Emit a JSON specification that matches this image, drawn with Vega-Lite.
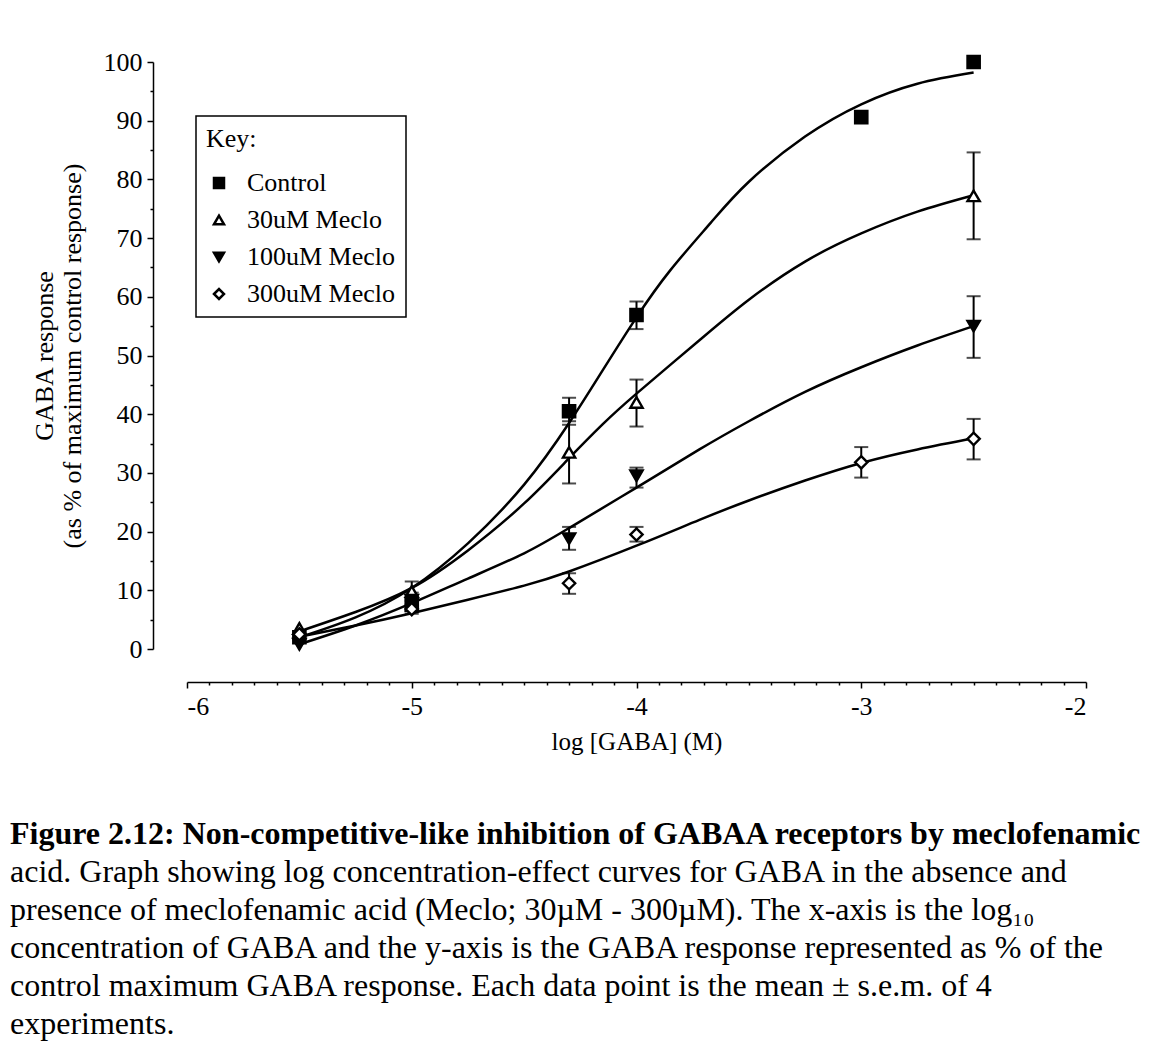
{
  "$schema": "https://vega.github.io/schema/vega-lite/v6.json",
  "width": 899,
  "height": 587,
  "autosize": {"type": "none"},
  "padding": {"left": 187, "top": 62, "right": 69, "bottom": 412},
  "background": "white",
  "config": {
    "view": {"stroke": null},
    "font": "Liberation Serif",
    "axis": {
      "grid": false,
      "domainColor": "black",
      "tickColor": "black",
      "labelColor": "black",
      "titleColor": "black",
      "domainWidth": 1.5,
      "tickWidth": 1.5,
      "labelFont": "Liberation Serif",
      "titleFont": "Liberation Serif",
      "labelFontSize": 26,
      "titleFontWeight": "normal"
    },
    "legend": {
      "strokeColor": "black",
      "strokeWidth": 1.5,
      "fillColor": "white",
      "padding": 10,
      "titleFont": "Liberation Serif",
      "titleFontSize": 26,
      "titleFontWeight": "normal",
      "titleColor": "black",
      "titlePadding": 18,
      "labelFont": "Liberation Serif",
      "labelFontSize": 26,
      "labelColor": "black",
      "labelOffset": 15,
      "rowPadding": 11,
      "symbolSize": 100,
      "symbolStrokeWidth": 2.5
    }
  },
  "title": {
    "text": "Figure 2.12: Non-competitive-like inhibition of GABAA receptors by meclofenamic",
    "subtitle": [
      "acid. Graph showing log concentration-effect curves for GABA in the absence and",
      "presence of meclofenamic acid (Meclo; 30µM - 300µM). The x-axis is the log₁₀",
      "concentration of GABA and the y-axis is the GABA response represented as % of  the",
      "control maximum GABA response. Each data point is the mean ± s.e.m. of 4",
      "experiments."
    ],
    "orient": "bottom",
    "anchor": "start",
    "frame": "group",
    "dx": -177,
    "offset": 65,
    "font": "Liberation Serif",
    "fontSize": 32,
    "fontWeight": "bold",
    "color": "black",
    "lineHeight": 38,
    "subtitleFont": "Liberation Serif",
    "subtitleFontSize": 32,
    "subtitleColor": "black",
    "subtitleLineHeight": 38,
    "subtitlePadding": 6
  },
  "datasets": {
    "curves": [
      {"series": "Control", "x": -5.5, "y": 2.0},
      {"series": "Control", "x": -5.25, "y": 5.4},
      {"series": "Control", "x": -5.0, "y": 10.4},
      {"series": "Control", "x": -4.75, "y": 18.0},
      {"series": "Control", "x": -4.5, "y": 28.0},
      {"series": "Control", "x": -4.3, "y": 38.5},
      {"series": "Control", "x": -4.15, "y": 47.5},
      {"series": "Control", "x": -4.0, "y": 56.5},
      {"series": "Control", "x": -3.85, "y": 64.5},
      {"series": "Control", "x": -3.67, "y": 72.6},
      {"series": "Control", "x": -3.5, "y": 79.6},
      {"series": "Control", "x": -3.25, "y": 87.3},
      {"series": "Control", "x": -3.0, "y": 92.8},
      {"series": "Control", "x": -2.75, "y": 96.3},
      {"series": "Control", "x": -2.5, "y": 98.2},
      {"series": "30uM Meclo", "x": -5.5, "y": 3.0},
      {"series": "30uM Meclo", "x": -5.25, "y": 6.3},
      {"series": "30uM Meclo", "x": -5.0, "y": 10.4},
      {"series": "30uM Meclo", "x": -4.75, "y": 16.8},
      {"series": "30uM Meclo", "x": -4.5, "y": 24.8},
      {"series": "30uM Meclo", "x": -4.3, "y": 32.5},
      {"series": "30uM Meclo", "x": -4.15, "y": 38.3},
      {"series": "30uM Meclo", "x": -4.0, "y": 43.5},
      {"series": "30uM Meclo", "x": -3.72, "y": 52.6},
      {"series": "30uM Meclo", "x": -3.5, "y": 59.5},
      {"series": "30uM Meclo", "x": -3.25, "y": 66.0},
      {"series": "30uM Meclo", "x": -3.0, "y": 70.8},
      {"series": "30uM Meclo", "x": -2.75, "y": 74.5},
      {"series": "30uM Meclo", "x": -2.5, "y": 77.3},
      {"series": "100uM Meclo", "x": -5.5, "y": 0.8},
      {"series": "100uM Meclo", "x": -5.25, "y": 4.0},
      {"series": "100uM Meclo", "x": -5.0, "y": 7.8},
      {"series": "100uM Meclo", "x": -4.75, "y": 12.0},
      {"series": "100uM Meclo", "x": -4.5, "y": 16.3},
      {"series": "100uM Meclo", "x": -4.3, "y": 20.6},
      {"series": "100uM Meclo", "x": -4.0, "y": 27.5},
      {"series": "100uM Meclo", "x": -3.72, "y": 34.0},
      {"series": "100uM Meclo", "x": -3.5, "y": 38.8},
      {"series": "100uM Meclo", "x": -3.25, "y": 43.8},
      {"series": "100uM Meclo", "x": -3.0, "y": 48.0},
      {"series": "100uM Meclo", "x": -2.75, "y": 51.7},
      {"series": "100uM Meclo", "x": -2.5, "y": 55.0},
      {"series": "300uM Meclo", "x": -5.5, "y": 2.1},
      {"series": "300uM Meclo", "x": -5.25, "y": 4.0},
      {"series": "300uM Meclo", "x": -5.0, "y": 6.1},
      {"series": "300uM Meclo", "x": -4.75, "y": 8.4},
      {"series": "300uM Meclo", "x": -4.5, "y": 10.8},
      {"series": "300uM Meclo", "x": -4.3, "y": 13.2},
      {"series": "300uM Meclo", "x": -4.0, "y": 17.6},
      {"series": "300uM Meclo", "x": -3.72, "y": 22.0},
      {"series": "300uM Meclo", "x": -3.5, "y": 25.3},
      {"series": "300uM Meclo", "x": -3.25, "y": 28.7},
      {"series": "300uM Meclo", "x": -3.0, "y": 31.7},
      {"series": "300uM Meclo", "x": -2.75, "y": 34.0},
      {"series": "300uM Meclo", "x": -2.5, "y": 35.9}
    ],
    "points": [
      {"series": "Control", "x": -5.5, "y": 2.0},
      {"series": "Control", "x": -5.0, "y": 7.5, "lo": 6.5, "hi": 8.6},
      {"series": "Control", "x": -4.3, "y": 40.5, "lo": 38.2, "hi": 42.8},
      {"series": "Control", "x": -4.0, "y": 56.9, "lo": 54.5, "hi": 59.2},
      {"series": "Control", "x": -3.0, "y": 90.6},
      {"series": "Control", "x": -2.5, "y": 100.0},
      {"series": "30uM Meclo", "x": -5.5, "y": 3.5},
      {"series": "30uM Meclo", "x": -5.0, "y": 9.8, "lo": 8.2, "hi": 11.5},
      {"series": "30uM Meclo", "x": -4.3, "y": 33.5, "lo": 28.2, "hi": 38.8},
      {"series": "30uM Meclo", "x": -4.0, "y": 42.0, "lo": 37.9, "hi": 45.9},
      {"series": "30uM Meclo", "x": -2.5, "y": 77.2, "lo": 69.8, "hi": 84.6},
      {"series": "100uM Meclo", "x": -5.5, "y": 0.8},
      {"series": "100uM Meclo", "x": -5.0, "y": 8.3, "lo": 7.0, "hi": 9.6},
      {"series": "100uM Meclo", "x": -4.3, "y": 18.8, "lo": 16.9, "hi": 20.8},
      {"series": "100uM Meclo", "x": -4.0, "y": 29.5, "lo": 27.5, "hi": 30.9},
      {"series": "100uM Meclo", "x": -2.5, "y": 55.0, "lo": 49.6, "hi": 60.1},
      {"series": "300uM Meclo", "x": -5.5, "y": 2.5},
      {"series": "300uM Meclo", "x": -5.0, "y": 6.8, "lo": 6.0, "hi": 7.6},
      {"series": "300uM Meclo", "x": -4.3, "y": 11.2, "lo": 9.4, "hi": 12.9},
      {"series": "300uM Meclo", "x": -4.0, "y": 19.5, "lo": 18.3, "hi": 20.8},
      {"series": "300uM Meclo", "x": -3.0, "y": 31.8, "lo": 29.2, "hi": 34.4},
      {"series": "300uM Meclo", "x": -2.5, "y": 35.8, "lo": 32.3, "hi": 39.2}
    ]
  },
  "resolve": {"axis": {"x": "independent", "y": "independent"}},
  "layer": [
    {
      "data": {"name": "curves"},
      "mark": {"type": "line", "color": "black", "strokeWidth": 2.5, "interpolate": "natural"},
      "encoding": {
        "x": {
          "field": "x", "type": "quantitative",
          "scale": {"domain": [-6, -2], "nice": false, "zero": false},
          "axis": {
            "orient": "bottom", "values": [-6, -5, -4, -3, -2], "offset": 33,
            "tickSize": 6, "labelPadding": 5, "labelExpr": "'' + datum.value",
            "title": "log [GABA] (M)", "titleFontSize": 25, "titlePadding": 10
          }
        },
        "y": {
          "field": "y", "type": "quantitative",
          "scale": {"domain": [0, 100], "nice": false},
          "axis": {
            "orient": "left", "values": [0, 10, 20, 30, 40, 50, 60, 70, 80, 90, 100], "offset": 34,
            "tickSize": 6, "labelPadding": 5,
            "title": ["GABA response", "(as % of maximum control response)"],
            "titleFontSize": 26, "titleLineHeight": 28, "titlePadding": 18
          }
        },
        "detail": {"field": "series", "type": "nominal"}
      }
    },
    {
      "data": {"name": "points"},
      "transform": [{"filter": "isValid(datum.lo)"}],
      "mark": {"type": "rule", "color": "black", "strokeWidth": 2},
      "encoding": {
        "x": {
          "field": "x", "type": "quantitative",
          "axis": {
            "orient": "bottom", "offset": 33, "tickSize": 3, "labels": false, "domain": false, "title": null,
            "values": [-5.9, -5.8, -5.7, -5.6, -5.5, -5.4, -5.3, -5.2, -5.1, -4.9, -4.8, -4.7, -4.6, -4.5, -4.4, -4.3, -4.2, -4.1, -3.9, -3.8, -3.7, -3.6, -3.5, -3.4, -3.3, -3.2, -3.1, -2.9, -2.8, -2.7, -2.6, -2.5, -2.4, -2.3, -2.2, -2.1]
          }
        },
        "y": {
          "field": "lo", "type": "quantitative",
          "axis": {
            "orient": "left", "offset": 34, "tickSize": 3, "labels": false, "domain": false, "title": null,
            "values": [5, 15, 25, 35, 45, 55, 65, 75, 85, 95]
          }
        },
        "y2": {"field": "hi"}
      }
    },
    {
      "data": {"name": "points"},
      "transform": [{"filter": "isValid(datum.lo)"}],
      "mark": {"type": "tick", "color": "black", "orient": "horizontal", "size": 14, "thickness": 2},
      "encoding": {
        "x": {"field": "x", "type": "quantitative", "axis": null},
        "y": {"field": "lo", "type": "quantitative", "axis": null}
      }
    },
    {
      "data": {"name": "points"},
      "transform": [{"filter": "isValid(datum.hi)"}],
      "mark": {"type": "tick", "color": "black", "orient": "horizontal", "size": 14, "thickness": 2},
      "encoding": {
        "x": {"field": "x", "type": "quantitative", "axis": null},
        "y": {"field": "hi", "type": "quantitative", "axis": null}
      }
    },
    {
      "data": {"name": "points"},
      "mark": {"type": "point", "filled": false, "color": "black", "strokeWidth": 2.4, "size": 150, "opacity": 1},
      "encoding": {
        "x": {"field": "x", "type": "quantitative", "axis": null},
        "y": {"field": "y", "type": "quantitative", "axis": null},
        "shape": {
          "field": "series", "type": "nominal", "title": "Key:",
          "scale": {"domain": ["Control", "30uM Meclo", "100uM Meclo", "300uM Meclo"], "range": ["square", "triangle-up", "triangle-down", "diamond"]},
          "legend": {"orient": "none", "legendX": 9, "legendY": 54, "symbolStrokeWidth": 2.5}
        },
        "fill": {
          "field": "series", "type": "nominal", "title": "Key:",
          "scale": {"domain": ["Control", "30uM Meclo", "100uM Meclo", "300uM Meclo"], "range": ["black", "white", "black", "white"]},
          "legend": {"orient": "none", "legendX": 9, "legendY": 54, "symbolStrokeWidth": 2.5}
        }
      }
    }
  ]
}
